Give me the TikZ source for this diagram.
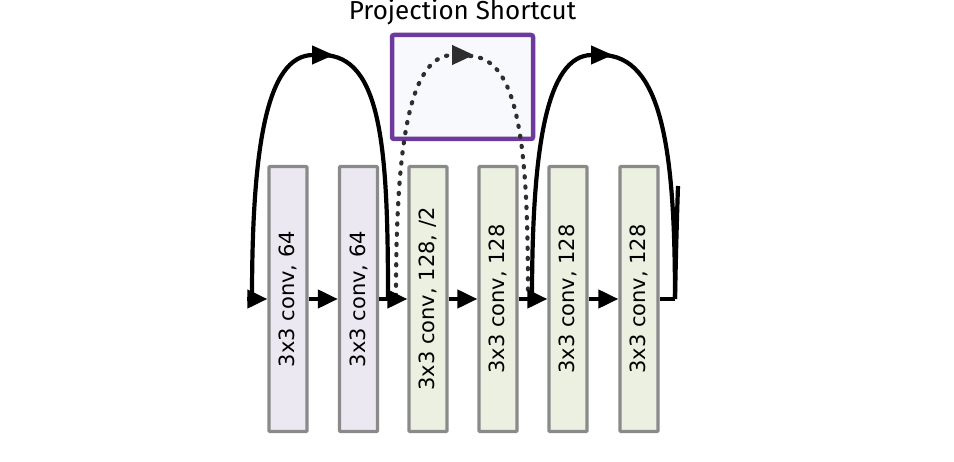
\documentclass[tikz,border=0pt]{standalone}
\usepackage{fontspec}
\setmainfont{DejaVu Sans}
\newfontfamily\titlefont{Fira Sans}
\usetikzlibrary{arrows.meta}
\definecolor{lav}{HTML}{ECE8F1}
\definecolor{grn}{HTML}{EBF0E0}
\definecolor{bordergray}{HTML}{8A8A8A}
\definecolor{purp}{HTML}{6B3A9C}
\definecolor{dotgray}{HTML}{2E2E2E}
\definecolor{panel}{HTML}{F8F9FC}
\begin{document}
\begin{tikzpicture}[x=1pt,y=-1pt,
  convbox/.style={draw=bordergray,line width=3.2pt,minimum width=38pt,minimum height=265pt,inner sep=0pt,rounded corners=1pt},
  convlabel/.style={rotate=90,font=\fontsize{21}{23}\selectfont,inner sep=0pt},
  flow/.style={line width=4.2pt,-{Triangle[length=20pt,width=18pt]}},
  skiphalf/.style={line width=4.2pt},
  skiptip/.style={line width=4.2pt,-{Triangle[length=22pt,width=18pt]}},
  projline/.style={dotgray,line width=4.2pt,line cap=round,dash pattern=on 1.2pt off 9pt},
  projtip/.style={projline,-{Triangle[length=22pt,width=19pt]}}
]
\useasboundingbox (0,0) rectangle (954,462);
% projection panel
\node[draw=purp,fill=panel,line width=4.5pt,rounded corners=2pt,minimum width=141pt,minimum height=104pt,inner sep=0pt] (panel) at (462.5,87) {};
\node[font=\titlefont\fontsize{26}{28}\selectfont] (title) at (462.5,12) {Projection Shortcut};
% boxes
\node[convbox,fill=lav] (b1) at (288,299) {};
\node[convbox,fill=lav] (b2) at (358.5,299) {};
\node[convbox,fill=grn] (b3) at (428,299) {};
\node[convbox,fill=grn] (b4) at (498,299) {};
\node[convbox,fill=grn] (b5) at (568,299) {};
\node[convbox,fill=grn] (b6) at (639,299) {};
\node[convlabel] (t1) at (b1.center) {3x3 conv, 64};
\node[convlabel] (t2) at (b2.center) {3x3 conv, 64};
\node[convlabel] (t3) at (b3.center) {3x3 conv, 128, /2};
\node[convlabel] (t4) at (b4.center) {3x3 conv, 128};
\node[convlabel] (t5) at (b5.center) {3x3 conv, 128};
\node[convlabel] (t6) at (b6.center) {3x3 conv, 128};
% junctions and apexes
\coordinate (j0) at (252,299);
\coordinate (j2a) at (388,299);
\coordinate (j2b) at (396,296);
\coordinate (j4a) at (528,296);
\coordinate (j4b) at (532,299);
\coordinate (j6) at (675,299);
\coordinate (j7) at (678,186);
\coordinate (inl) at (247,299);
\coordinate (a1) at (334,55);
\coordinate (a2) at (474,55);
\coordinate (a3) at (613,55);
% skip arches
\draw[skiptip] (j0) .. controls (252,150) and (266,55) .. (a1);
\draw[skiphalf] (322,55) .. controls (382,55) and (388,150) .. (j2a);
\draw[skiptip] (j4b) .. controls (532,150) and (546,55) .. (a3);
\draw[skiphalf] (601,55) .. controls (662,55) and (675,150) .. (j6);
\draw[skiphalf] (j6) .. controls (676,250) and (677,215) .. (j7);
% projection (dotted)
\draw[projtip] (j2b) .. controls (396,150) and (408,55) .. (a2);
\draw[projline] (470,56) .. controls (520,58) and (528,150) .. (j4a);
% flow arrows
\draw[flow] (inl) -- (b1.west);
\draw[flow] (b1.east) -- (b2.west);
\draw[flow] (b2.east) -- (b3.west);
\draw[flow] (b3.east) -- (b4.west);
\draw[flow] (b4.east) -- (b5.west);
\draw[flow] (b5.east) -- (b6.west);
\draw[skiphalf] (b6.east) -- (j6);
\end{tikzpicture}
\end{document}
